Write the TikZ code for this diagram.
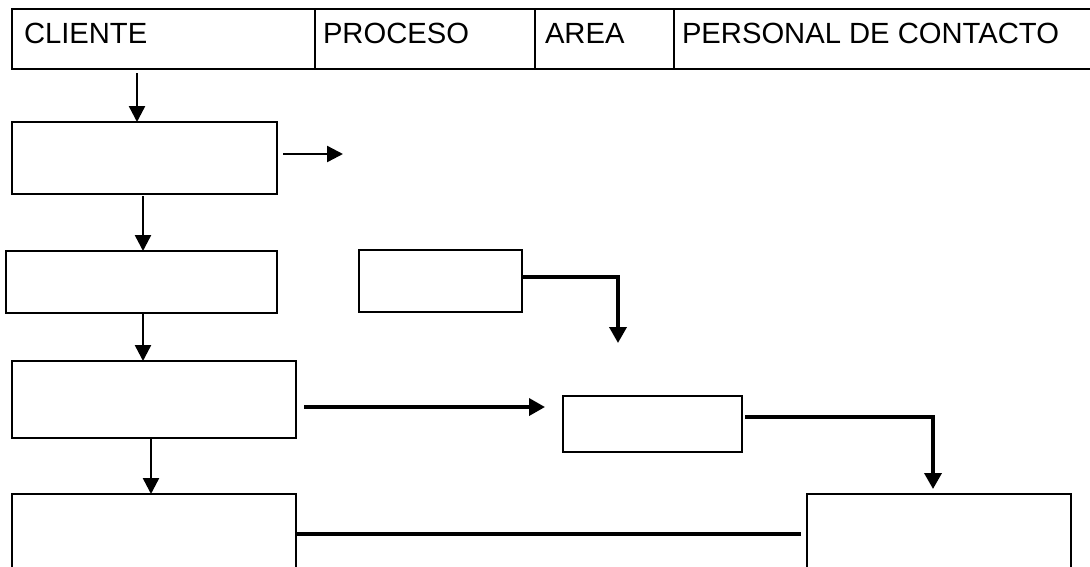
\documentclass[tikz,border=0pt]{standalone}
\usepackage{fontspec}
\setmainfont{Liberation Sans}
\usetikzlibrary{arrows.meta,calc}
\begin{document}
\begin{tikzpicture}[x=1pt,y=-1pt,
  box/.style={draw, line width=2pt, rectangle, inner sep=0pt, outer sep=0pt, anchor=north west},
  hdr/.style={inner sep=0pt, outer sep=0pt, anchor=base west, font=\fontsize{29.2}{34}\selectfont},
  thinarrow/.style={line width=2.4pt, -{Triangle[width=16pt,length=16pt]}},
  thickarrow/.style={line width=3.6pt, -{Triangle[width=17pt,length=16pt]}},
  plainline/.style={line width=3.6pt}]
\useasboundingbox (0,0) rectangle (1090,566);
\clip (0,0) rectangle (1090,566);
% header
\node[box, minimum width=303pt, minimum height=60pt] (c1) at (12,9) {};
\node[box, minimum width=220pt, minimum height=60pt] (c2) at (315,9) {};
\node[box, minimum width=139pt, minimum height=60pt] (c3) at (535,9) {};
\node[box, minimum width=430pt, minimum height=60pt] (c4) at (674,9) {};
\node[hdr] (t1) at ($(c1.north west)+(12,34)$) {CLIENTE};
\node[hdr] (t2) at ($(c2.north west)+(8,34)$) {PROCESO};
\node[hdr] (t3) at ($(c3.north west)+(10,34)$) {AREA};
\node[hdr] (t4) at ($(c4.north west)+(8,34)$) {PERSONAL DE CONTACTO};
% boxes
\node[box, minimum width=265pt, minimum height=72pt] (b1) at (12,122) {};
\node[box, minimum width=271pt, minimum height=62pt] (b2) at (6,251) {};
\node[box, minimum width=163pt, minimum height=62pt] (b3) at (359,250) {};
\node[box, minimum width=284pt, minimum height=77pt] (b4) at (12,361) {};
\node[box, minimum width=179pt, minimum height=56pt] (b5) at (563,396) {};
\node[box, minimum width=284pt, minimum height=100pt] (b6) at (12,494) {};
\node[box, minimum width=264pt, minimum height=100pt] (b7) at (807,494) {};
% connectors
\coordinate (s1) at ($(c1.south west)+(125,4)$);
\draw[thinarrow] (s1) -- (s1 |- b1.north);
\coordinate (s2) at ($(b1.north east)+(6,32)$);
\coordinate (e2) at ($(s2)+(60,0)$);
\draw[thinarrow] (s2) -- (e2);
\coordinate (s3) at ($(b1.south west)+(131,2)$);
\draw[thinarrow] (s3) -- (s3 |- b2.north);
\coordinate (s4) at ($(b2.south west)+(137,1)$);
\draw[thinarrow] (s4) -- (s4 |- b4.north);
\coordinate (s5) at ($(b3.north east)+(0,27)$);
\coordinate (e5) at ($(s5)+(96,66)$);
\draw[thickarrow] (s5) -| (e5);
\coordinate (s6) at ($(b4.south west)+(139,1)$);
\draw[thinarrow] (s6) -- (s6 |- b6.north);
\coordinate (s7) at ($(b4.north east)+(8,46)$);
\coordinate (e7) at ($(b5.north west)+(-18,11)$);
\draw[thickarrow] (s7) -- (s7 -| e7);
\coordinate (s8) at ($(b5.north east)+(3,21)$);
\coordinate (k8) at ($(b7.north west)+(126,0)$);
\draw[thickarrow, shorten >=5pt] (s8) -| (k8);
\coordinate (s9) at ($(b6.north east)+(0,40)$);
\draw[plainline] (s9) -- (s9 -| {$(b7.west)+(-6,0)$});
\end{tikzpicture}
\end{document}
